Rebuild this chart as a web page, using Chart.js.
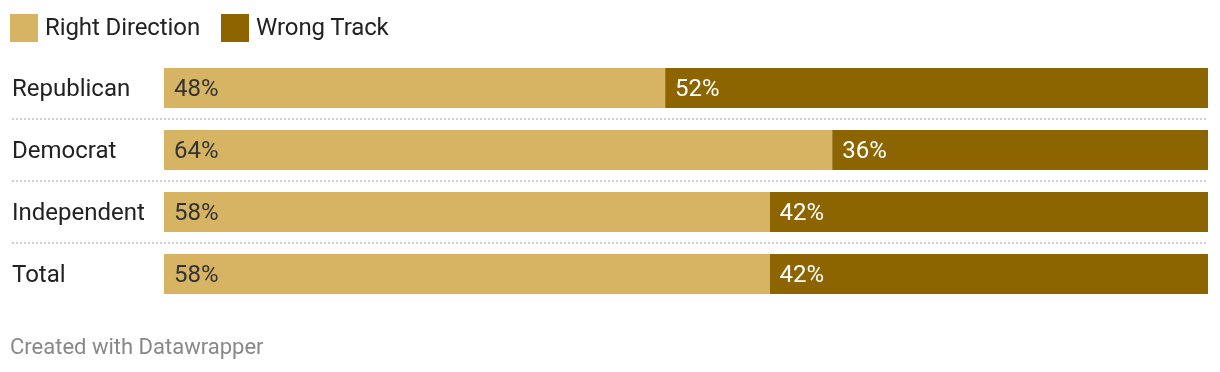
<!DOCTYPE html>
<html>
<head>
<meta charset="utf-8">
<script src="https://cdn.jsdelivr.net/npm/chart.js@4/dist/chart.umd.min.js"></script>
<style>
  html, body { margin: 0; padding: 0; background: #fff; }
  body { width: 1220px; height: 372px; position: relative; overflow: hidden; font-family: Roboto, sans-serif; }
  #wrap { position: absolute; left: 0; top: 0; width: 1220px; height: 372px; }
  .legend { position: absolute; top: 14px; left: 10px; display: flex; align-items: center; font-size: 24px; color: #222; }
  .legend .item { display: flex; align-items: center; margin-right: 21px; }
  .legend .swatch { width: 28px; height: 28px; margin-right: 7px; }
  .legend .name { position: relative; top: -1px; letter-spacing: -0.1px; }
  .footer { position: absolute; left: 10px; top: 334px; font-size: 22px; color: #888; }
</style>
</head>
<body>
<div id="wrap"><canvas id="chart" width="1220" height="372"></canvas></div>
<div class="legend" id="legend"></div>
<div class="footer">Created with Datawrapper</div>
<script>
// Data
const categories = ['Republican', 'Democrat', 'Independent', 'Total'];
const rightDirection = [48, 64, 58, 58];
const wrongTrack = [52, 36, 42, 42];
const seriesNames = ['Right Direction', 'Wrong Track'];
const colors = ['#d6b463', '#8c6500'];
const labelColors = ['#333333', '#ffffff'];

// HTML legend
const legendEl = document.getElementById('legend');
seriesNames.forEach((name, i) => {
    const item = document.createElement('div');
    item.className = 'item';
    item.innerHTML = `<span class="swatch" style="background:${colors[i]}"></span><span class="name">${name}</span>`;
    legendEl.appendChild(item);
});

// dotted separators between rows
const separators = {
    id: 'separators',
    beforeDatasetsDraw(chart) {
        const { ctx } = chart;
        const y = chart.scales.y;
        ctx.save();
        ctx.strokeStyle = '#cfcfcf';
        ctx.lineWidth = 2;
        ctx.setLineDash([2, 2]);
        for (let i = 0; i < categories.length - 1; i++) {
            const py = (y.getPixelForValue(i) + y.getPixelForValue(i + 1)) / 2;
            ctx.beginPath();
            ctx.moveTo(12, py);
            ctx.lineTo(chart.chartArea.right, py);
            ctx.stroke();
        }
        ctx.restore();
    }
};

// value labels inside the bars
const valueLabels = {
    id: 'valueLabels',
    afterDatasetsDraw(chart) {
        const { ctx } = chart;
        ctx.save();
        ctx.font = '24px Roboto, sans-serif';
        ctx.textAlign = 'left';
        ctx.textBaseline = 'middle';
        chart.data.datasets.forEach((ds, di) => {
            const meta = chart.getDatasetMeta(di);
            meta.data.forEach((bar, i) => {
                ctx.fillStyle = labelColors[di];
                ctx.fillText(ds.data[i] + '%', bar.base + 10, bar.y + 1.5);
            });
        });
        ctx.restore();
    }
};

const ctx = document.getElementById('chart').getContext('2d');
const chart = new Chart(ctx, {
    type: 'bar',
    data: {
        labels: categories,
        datasets: [{
            label: seriesNames[0],
            data: rightDirection,
            backgroundColor: colors[0],
            borderWidth: 0,
            barPercentage: 40 / 62,
            categoryPercentage: 1
        }, {
            label: seriesNames[1],
            data: wrongTrack,
            backgroundColor: colors[1],
            borderWidth: 0,
            barPercentage: 40 / 62,
            categoryPercentage: 1
        }]
    },
    options: {
        indexAxis: 'y',
        responsive: false,
        animation: false,
        layout: { padding: { top: 57, bottom: 67, left: 12, right: 12 } },
        plugins: {
            legend: { display: false },
            tooltip: { enabled: false }
        },
        scales: {
            x: {
                stacked: true,
                min: 0,
                max: 100,
                display: false
            },
            y: {
                stacked: true,
                grid: { display: false },
                border: { display: false },
                ticks: {
                    crossAlign: 'far',
                    color: '#222',
                    font: { family: 'Roboto, sans-serif', size: 24 },
                    padding: 0,
                    labelOffset: 2
                },
                afterFit(scale) { scale.width = 152; }
            }
        }
    },
    plugins: [separators, valueLabels]
});
</script>
</body>
</html>
